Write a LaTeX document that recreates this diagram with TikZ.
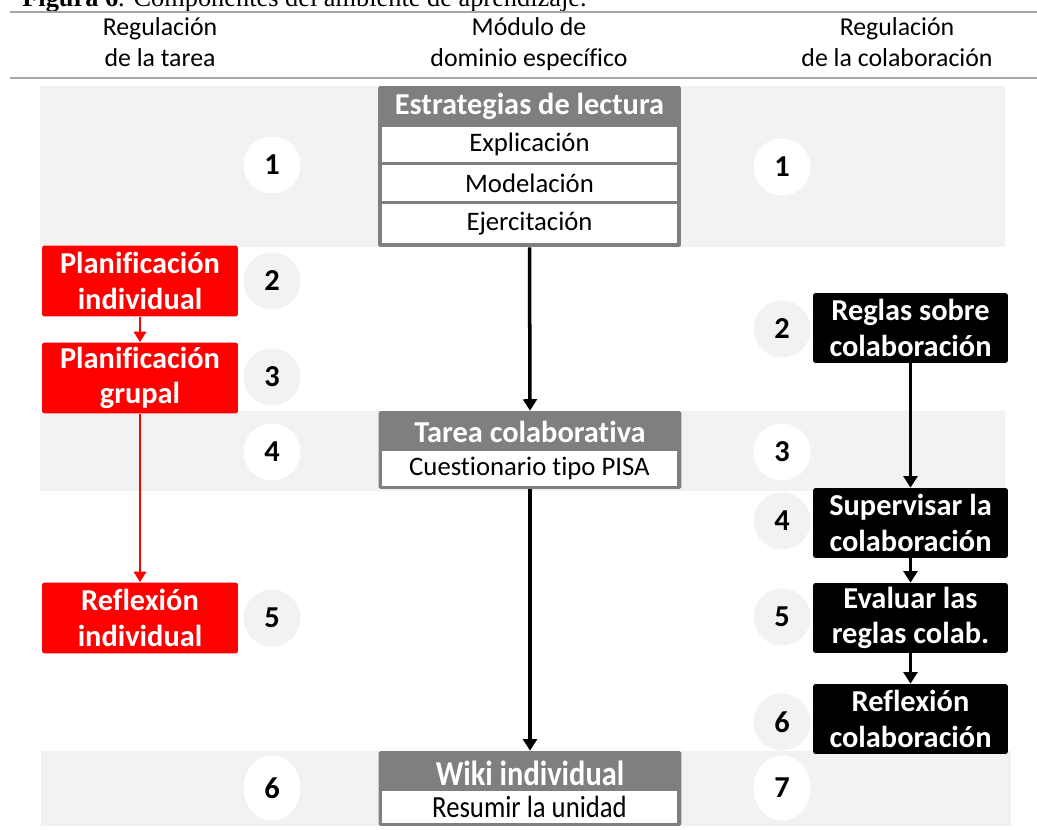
\documentclass[tikz,border=0pt]{standalone}
\usepackage{fontspec}
\usepackage{graphicx}
\setmainfont{Carlito}[Ligatures=NoCommon]
\newfontfamily\capfont{Liberation Serif}
\usetikzlibrary{arrows.meta,shapes.geometric}
\definecolor{bandgray}{HTML}{F2F2F2}
\definecolor{headgray}{HTML}{7F7F7F}
\definecolor{rulegray}{HTML}{A6A6A6}
\definecolor{taskred}{HTML}{FF0000}
\newcommand\boxfont{\fontsize{17.3}{20}\selectfont\bfseries}
\newcommand\rowfont{\fontsize{15.2}{18}\selectfont}
\newcommand\headfont{\fontsize{14.7}{17.5}\selectfont}
\newcommand\tallline[1]{\scalebox{1}[1.15]{#1}}
\begin{document}
\begin{tikzpicture}[x=0.02cm,y=-0.02cm,
  band/.style={fill=bandgray,draw=none},
  badge/.style={circle,inner sep=0pt,minimum size=1.14cm,font=\boxfont},
  tallbadge/.style={ellipse,inner sep=0pt,minimum width=1.14cm,minimum height=1.3cm,font=\boxfont},
  onband/.style={fill=white},
  offband/.style={fill=bandgray},
  redbox/.style={fill=taskred,text=white,rounded corners=1.5pt,minimum width=3.92cm,
    minimum height=1.42cm,align=center,font=\boxfont,inner sep=0pt},
  blackbox/.style={fill=black,text=white,rounded corners=1.5pt,minimum width=3.9cm,
    minimum height=1.4cm,align=center,font=\boxfont,inner sep=0pt},
  frame/.style={fill=headgray,rounded corners=1pt,minimum width=6.06cm,inner sep=0pt},
  cell/.style={fill=white,minimum width=5.9cm,inner sep=0pt,font=\rowfont},
  headtxt/.style={text=white,font=\boxfont,inner sep=0pt},
  colhead/.style={font=\headfont,anchor=base,inner sep=0pt},
  blackarrow/.style={line width=2pt,-{Triangle[width=7.8pt,length=6.5pt]}},
  redarrow/.style={draw=taskred,line width=1.6pt,-{Triangle[width=7pt,length=6pt]}},
  rulestyle/.style={draw=rulegray,line width=0.9pt}
]
\useasboundingbox (0,0) rectangle (1037,830);

% caption and header rules
\node[anchor=base west,inner sep=0pt,font=\capfont\fontsize{15}{17}\selectfont] (caption) at (22,6.5)
  {\textbf{Figura 6}. Componentes del ambiente de aprendizaje.};
\draw[rulestyle] (10,12) -- (1037,12);
\draw[rulestyle] (10,78) -- (1037,78);

% column headings
\node[colhead] (hl1) at (160,36) {Regulación};
\node[colhead] (hl2) at (160,67) {de la tarea};
\node[colhead] (hm1) at (529,36) {Módulo de};
\node[colhead] (hm2) at (529,67) {dominio específico};
\node[colhead] (hr1) at (897,36) {Regulación};
\node[colhead] (hr2) at (897,67) {de la colaboración};

% shaded phase bands
\fill[band] (40,86) rectangle (1005,247);
\fill[band] (40,411) rectangle (1005,491);
\fill[band] (41,751) rectangle (1011,826);

% reading strategies module
\node[frame,minimum height=3.22cm] (strat) at (529.5,166.5) {};
\node[headtxt] (strath) at (529.5,106) {Estrategias de lectura};
\node[cell,minimum height=0.7cm] (row1) at (529.5,144.5) {Explicación};
\node[cell,minimum height=0.72cm] (row2) at (529.5,183.5) {Modelación};
\node[cell,minimum height=0.78cm] (row3) at (529.5,224) {Ejercitación};

% collaborative task
\node[frame,minimum height=1.56cm] (tarea) at (530,450) {};
\node[headtxt] (tareah) at (530,432) {Tarea colaborativa};
\node[cell,minimum height=0.7cm] (tarear) at (529.5,468.5) {Cuestionario tipo PISA};

% individual wiki
\node[frame,minimum height=1.5cm] (wiki) at (530,788.5) {};
\node[headtxt] (wikih) at (530,773) {\tallline{Wiki individual}};
\node[cell,minimum height=0.64cm] (wikir) at (529.5,807) {\tallline{Resumir la unidad}};

% task regulation
\node[redbox] (pind) at (140,281) {Planificación\\individual};
\node[redbox] (pgru) at (140,378) {Planificación\\grupal};
\node[redbox] (rind) at (140,618) {Reflexión\\individual};

% collaboration regulation
\node[blackbox] (reg) at (910.5,328) {Reglas sobre\\colaboración};
\node[blackbox] (sup) at (910.5,523) {Supervisar la\\colaboración};
\node[blackbox] (eva) at (910.5,618) {Evaluar las\\reglas colab.};
\node[blackbox] (rcol) at (910.5,719) {Reflexión\\colaboración};

% step numbers, task side
\node[badge,onband] (l1) at (272,165) {1};
\node[badge,offband] (l2) at (272,281) {2};
\node[badge,offband] (l3) at (272,377) {3};
\node[badge,onband] (l4) at (272,452) {4};
\node[badge,offband] (l5) at (272,618) {5};
\node[tallbadge,onband] (l6) at (272,788) {6};

% step numbers, collaboration side
\node[badge,onband] (r1) at (782,167) {1};
\node[badge,offband] (r2) at (782,329) {2};
\node[badge,onband] (r3) at (782,452) {3};
\node[badge,offband] (r4) at (782,521) {4};
\node[badge,offband] (r5) at (782,617) {5};
\node[badge,offband] (r6) at (782,722) {6};
\node[tallbadge,onband] (r7) at (782,788) {7};

% connectors
\draw[blackarrow] (strat.south) -- (tarea.north);
\draw[blackarrow] (tarea.south) -- (wiki.north);
\draw[redarrow] (pind.south) -- (pgru.north);
\draw[redarrow] (pgru.south) -- (rind.north);
\draw[blackarrow] (reg.south) -- (sup.north);
\draw[blackarrow] (sup.south) -- (eva.north);
\draw[blackarrow] (eva.south) -- (rcol.north);
\end{tikzpicture}
\end{document}
